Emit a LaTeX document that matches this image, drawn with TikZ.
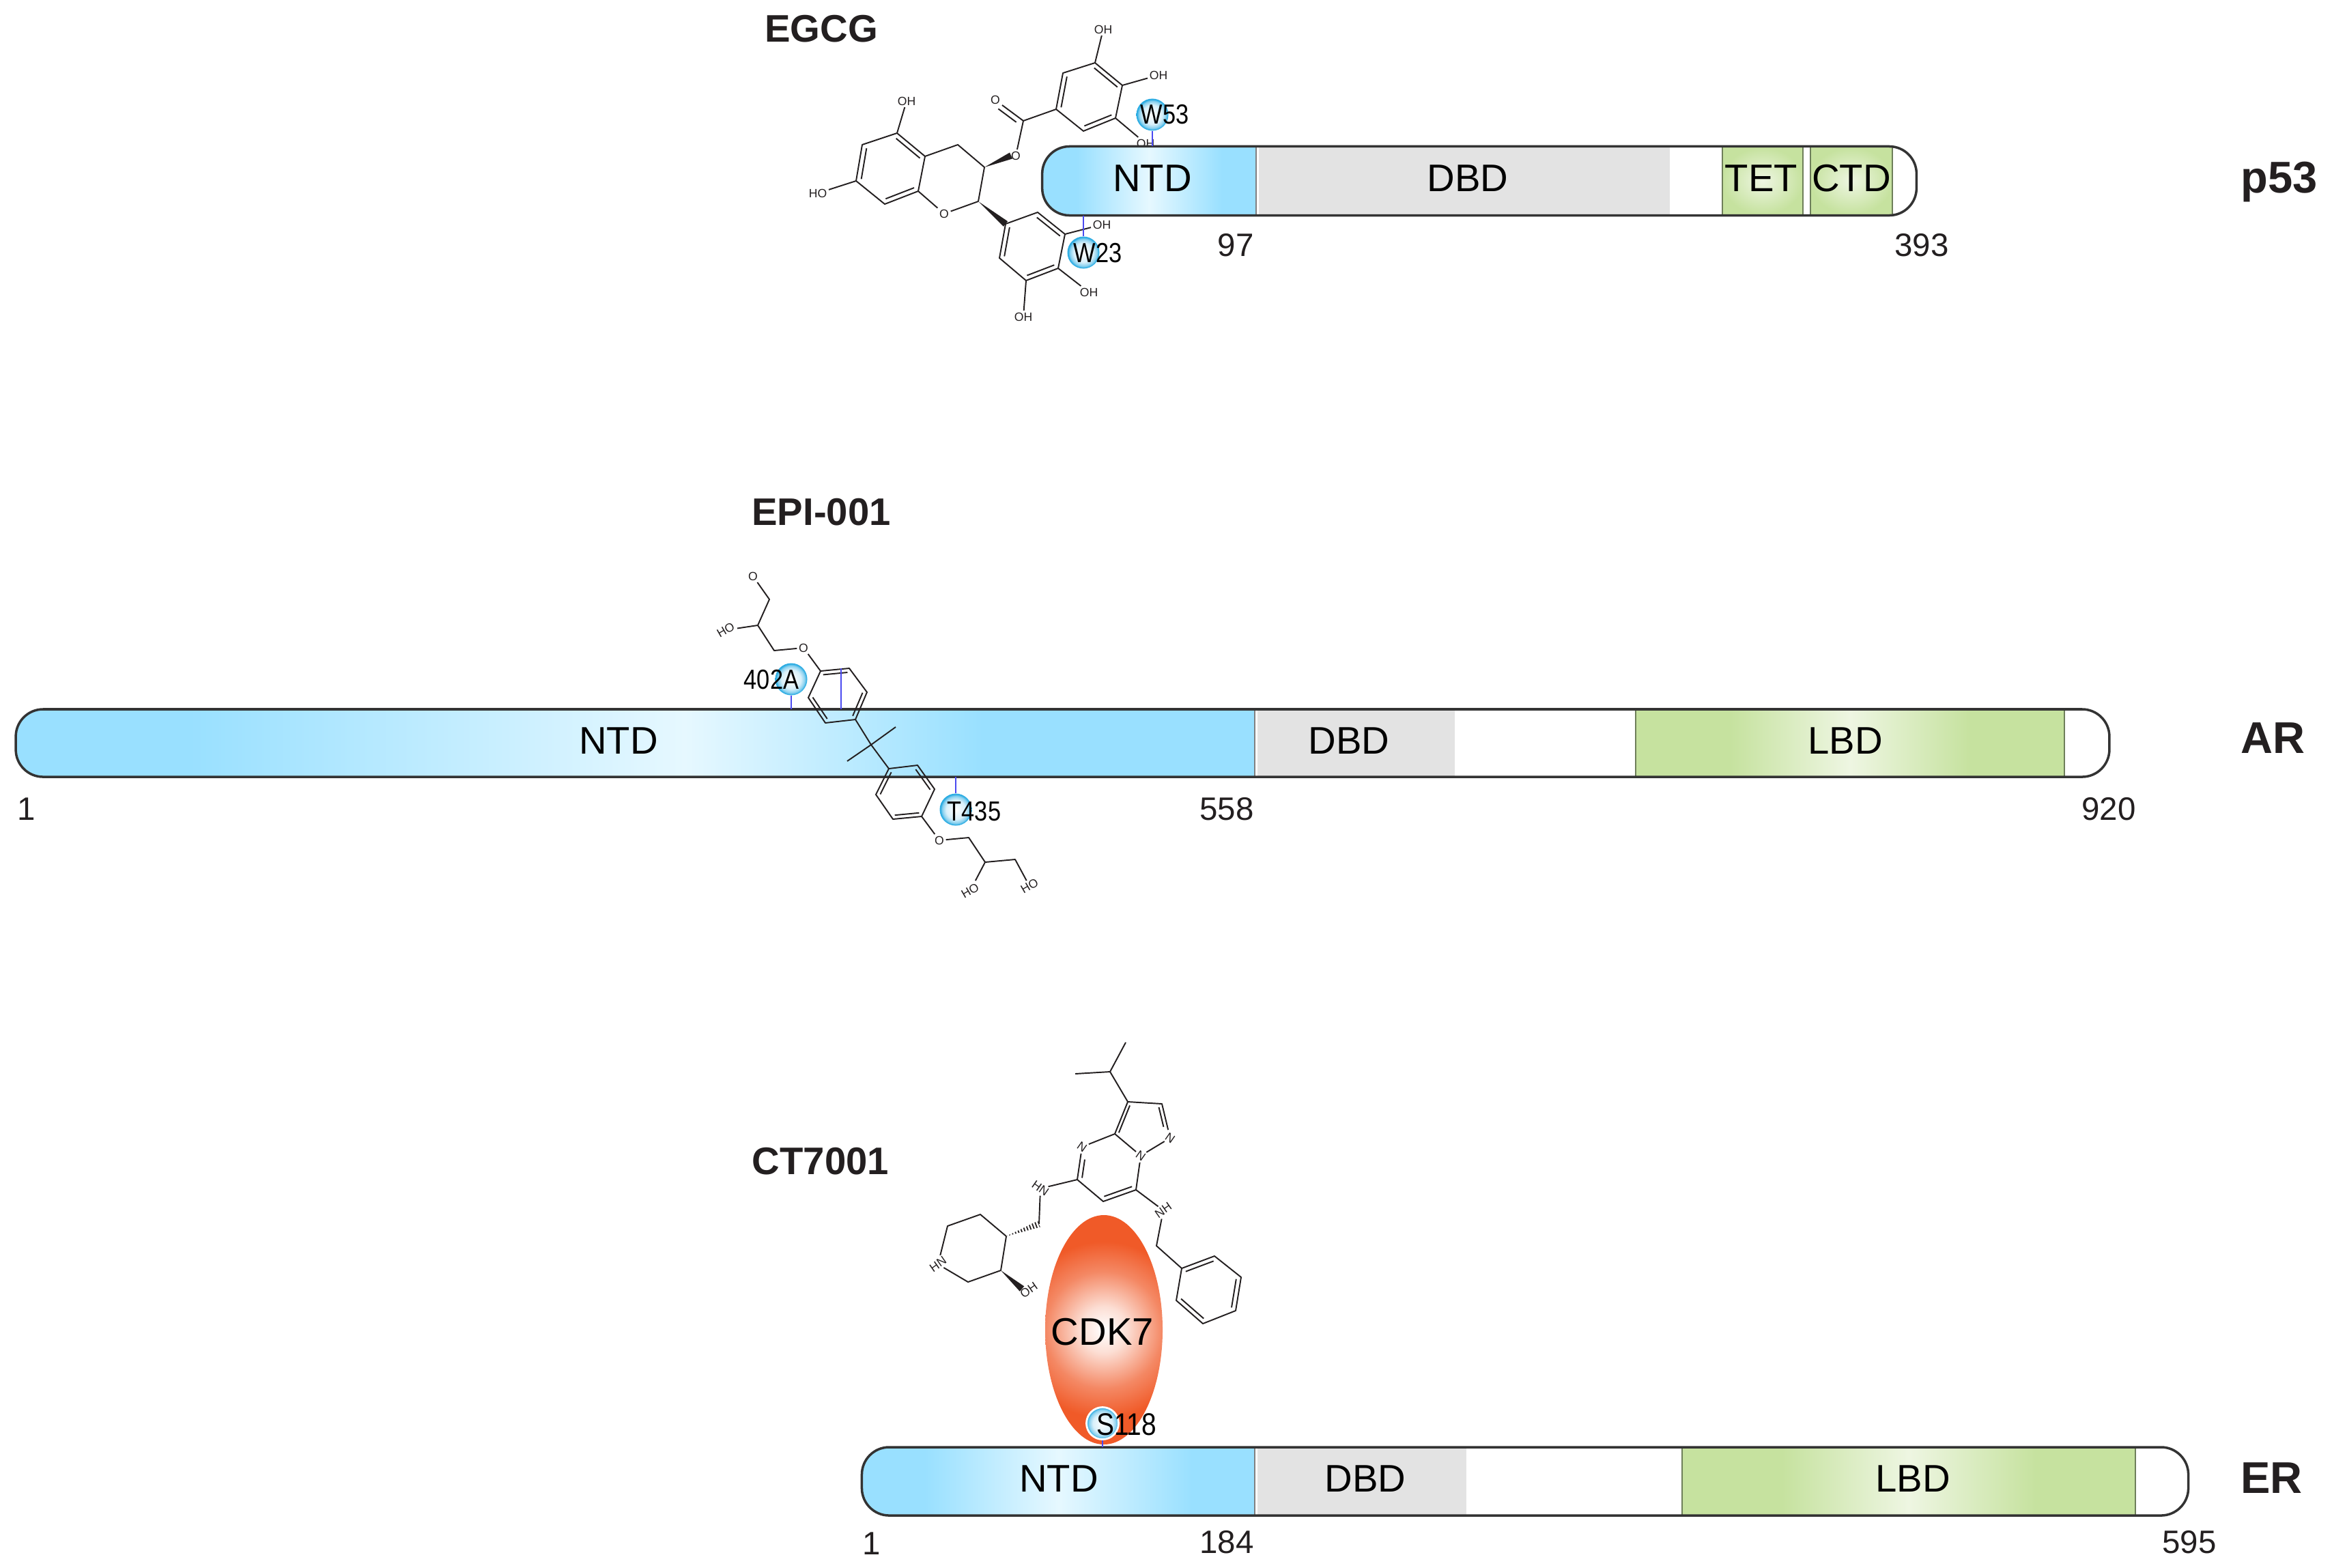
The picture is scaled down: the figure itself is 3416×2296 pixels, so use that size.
\documentclass[tikz,border=0pt]{standalone}
\usepackage{graphicx}
\usepackage{fontspec}
\setmainfont{Liberation Sans}
\usetikzlibrary{calc, positioning, shapes.geometric}
\definecolor{colorNTD}{HTML}{99E0FF}
\definecolor{colorNTDlight}{HTML}{E6F8FF}
\definecolor{colorDBD}{HTML}{E3E3E3}
\definecolor{colorLBD}{HTML}{C6E29F}
\definecolor{colorLBDlight}{HTML}{EEF6E2}
\definecolor{colorEdge}{HTML}{333333}
\definecolor{colorGreenEdge}{HTML}{6E7F5A}
\definecolor{colorInk}{HTML}{231F20}
\definecolor{colorContact}{HTML}{4A4AF0}
\definecolor{colorResidue}{HTML}{29ABE2}
\definecolor{colorKinase}{HTML}{F05A28}
\pgfdeclarehorizontalshading{ntdfade}{100bp}{color(0bp)=(colorNTD); color(33bp)=(colorNTD); color(50bp)=(colorNTDlight); color(67bp)=(colorNTD); color(100bp)=(colorNTD)}
\pgfdeclarehorizontalshading{arfade}{100bp}{color(0bp)=(colorNTD); color(32bp)=(colorNTD); color(52bp)=(colorNTDlight); color(64bp)=(colorNTD); color(100bp)=(colorNTD)}
\pgfdeclarehorizontalshading{lbdfade}{100bp}{color(0bp)=(colorLBD); color(36bp)=(colorLBD); color(50bp)=(colorLBDlight); color(64bp)=(colorLBD); color(100bp)=(colorLBD)}
\pgfdeclareradialshading{residuefade}{\pgfpoint{0bp}{0bp}}{color(0bp)=(white); color(15bp)=(colorResidue!18); color(21bp)=(colorResidue!55); color(24bp)=(colorResidue); color(50bp)=(colorResidue)}
\pgfdeclareradialshading{kinasefade}{\pgfpoint{0bp}{0bp}}{color(0bp)=(white); color(5bp)=(colorKinase!20); color(12.6bp)=(colorKinase!72); color(19bp)=(colorKinase); color(50bp)=(colorKinase)}
\tikzset{
  barbody/.style={draw=colorEdge, line width=1pt, rounded corners=0.4cm, inner sep=0pt, outer sep=0pt},
  domainlabel/.style={font=\fontsize{16}{18}\selectfont, text=black, inner sep=1pt},
  sitenumber/.style={font=\fontsize{13.5}{15}\selectfont, text=colorInk, inner sep=1pt},
  drugname/.style={font=\fontsize{16}{18}\selectfont\bfseries, text=colorInk, inner sep=1pt},
  proteinname/.style={font=\fontsize{18.5}{20}\selectfont\bfseries, text=colorInk, inner sep=1pt, anchor=west},
  sitename/.style={font=\fontsize{11.5}{13}\selectfont, text=black, inner sep=0pt},
  residue/.style={circle, minimum size=0.47cm, inner sep=0pt, shade, shading=residuefade},
  atomlabel/.style={font=\fontsize{5}{6}\selectfont, text=colorInk, inner sep=0.6pt},
  bond/.style={draw=colorInk, line width=0.55pt, line join=round},
  contact/.style={draw=colorContact, line width=0.55pt},
  domainedge/.style={draw=gray, line width=0.6pt},
  greenedge/.style={draw=colorGreenEdge, line width=0.6pt}
}
\newcommand{\sitetext}[1]{\scalebox{0.85}[1]{#1}}
\newcommand{\dblbond}[4][]{\draw[bond,#1] ($(#2)!0.15!(#4)$) -- ($(#3)!0.15!(#4)$);}
\newcommand{\wedgebond}[2]{\fill[colorInk] (#1) -- ($(#2)!1.4pt!90:(#1)$) -- ($(#2)!1.4pt!-90:(#1)$) -- cycle;}
\newcommand{\hashbond}[2]{\begin{scope}\clip (#1) -- ($(#2)!1.4pt!90:(#1)$) -- ($(#2)!1.4pt!-90:(#1)$) -- cycle;\draw[colorInk, line width=3pt, dash pattern=on 0.5pt off 0.8pt] (#1) -- (#2);\end{scope}}
\begin{document}
\begin{tikzpicture}[x=0.01cm, y=-0.01cm]
\useasboundingbox (0,0) rectangle (3416,2296);
\node[drugname] (egcgtitle) at (1203,42) {EGCG};
\node[drugname] (epititle) at (1203,750) {EPI-001};
\node[drugname] (cttitle) at (1202,1701) {CT7001};
\node[proteinname] (p53name) at (3278,267) {p53};
\node[proteinname] (arname) at (3278,1081) {AR};
\node[proteinname] (ername) at (3278,2165) {ER};
\coordinate (ea1) at (1314,195);
\coordinate (ea2) at (1263,212);
\coordinate (ea3) at (1254,265);
\coordinate (ea4) at (1296,299);
\coordinate (ea5) at (1345,280);
\coordinate (ea6) at (1355,229);
\coordinate (eac) at (1305,247);
\coordinate (eb1) at (1403,212);
\coordinate (eb2) at (1442,245);
\coordinate (eb3) at (1433,295);
\coordinate (ew1) at (1481,228);
\coordinate (ec1) at (1499,177);
\coordinate (ec2) at (1468,154);
\coordinate (ecr) at (1430,190);
\coordinate (ed1) at (1547,160);
\coordinate (ed2) at (1557,107);
\coordinate (ed3) at (1604,92);
\coordinate (ed4) at (1644,125);
\coordinate (ed5) at (1634,173);
\coordinate (ed6) at (1587,192);
\coordinate (edc) at (1596,142);
\coordinate (ee1) at (1473,328);
\coordinate (ee2) at (1520,311);
\coordinate (ee3) at (1560,343);
\coordinate (ee4) at (1550,393);
\coordinate (ee5) at (1503,411);
\coordinate (ee6) at (1464,378);
\coordinate (eec) at (1512,361);
\node[atomlabel] (eoh1) at (1328,148) {OH};
\node[atomlabel] (eho2) at (1198,283) {HO};
\node[atomlabel] (eo3) at (1383,313) {O};
\node[atomlabel] (eo4) at (1488,228) {O};
\node[atomlabel] (eo5) at (1458,146) {O};
\node[atomlabel] (eoh6) at (1616,43) {OH};
\node[atomlabel] (eoh7) at (1697,110) {OH};
\node[atomlabel] (eoh8) at (1678,210) {OH};
\node[atomlabel] (eoh9) at (1614,329) {OH};
\node[atomlabel] (eoh10) at (1595,428) {OH};
\node[atomlabel] (eoh11) at (1499,464) {OH};
\draw[bond] (ea1) -- (ea2) -- (ea3) -- (ea4) -- (ea5) -- (ea6) -- cycle;
\draw[bond] (ea6) -- (eb1) -- (eb2) -- (eb3) -- (eo3) -- (ea5);
\draw[bond] (ed1) -- (ed2) -- (ed3) -- (ed4) -- (ed5) -- (ed6) -- cycle;
\draw[bond] (ee1) -- (ee2) -- (ee3) -- (ee4) -- (ee5) -- (ee6) -- cycle;
\draw[bond] (ea1) -- (eoh1);
\draw[bond] (ea3) -- (eho2);
\draw[bond] (eo4) -- (ec1) -- (ed1);
\draw[bond] (ec1) -- (ec2);
\draw[bond] (ed3) -- (eoh6);
\draw[bond] (ed4) -- (eoh7);
\draw[bond] (ed5) -- (eoh8);
\draw[bond] (ee3) -- (eoh9);
\draw[bond] (ee4) -- (eoh10);
\draw[bond] (ee5) -- (eoh11);
\dblbond{ea1}{ea6}{eac}
\dblbond{ea2}{ea3}{eac}
\dblbond{ea4}{ea5}{eac}
\dblbond{ed1}{ed2}{edc}
\dblbond{ed3}{ed4}{edc}
\dblbond{ed5}{ed6}{edc}
\dblbond{ee1}{ee6}{eec}
\dblbond{ee2}{ee3}{eec}
\dblbond{ee4}{ee5}{eec}
\dblbond{ec1}{ec2}{ecr}
\wedgebond{eb2}{ew1}
\wedgebond{eb3}{ee1}
\shade[shading=ntdfade] (1840,216) [rounded corners=0.4cm] -- (1527,216) -- (1527,315) [sharp corners] -- (1840,315) -- cycle;
\fill[colorDBD] (1844,216) rectangle (2446,314);
\shade[inner color=colorLBDlight, outer color=colorLBD] (2523,216) rectangle (2641,314);
\shade[inner color=colorLBDlight, outer color=colorLBD] (2652,216) rectangle (2772,314);
\draw[domainedge] (1840,216) -- (1840,315);
\draw[greenedge] (2523,216) -- (2523,315);
\draw[greenedge] (2641,216) -- (2641,315);
\draw[greenedge] (2652,216) -- (2652,315);
\draw[greenedge] (2772,216) -- (2772,315);
\node[barbody, minimum width=12.8cm, minimum height=1.01cm] (p53bar) at (2167,265) {};
\node[domainlabel] (p53ntd) at (1688,261) {NTD};
\node[domainlabel] (p53dbd) at (2150,261) {DBD};
\node[domainlabel] (p53tet) at (2580,261) {TET};
\node[domainlabel] (p53ctd) at (2712,261) {CTD};
\node[sitenumber] (p53n97) at (1810,359) {97};
\node[sitenumber] (p53n393) at (2815,359) {393};
\node[residue] (w53) at (1688,168) {};
\node[residue] (w23) at (1587,370) {};
\draw[contact] (w53) -- (w53 |- p53bar.north);
\draw[contact] (w23) -- (w23 |- p53bar.south);
\node[sitename] (w53name) at (1706,168) {\sitetext{W53}};
\node[sitename] (w23name) at (1608,371) {\sitetext{W23}};
\shade[shading=arfade] (1838,1040) [rounded corners=0.4cm] -- (24,1040) -- (24,1138) [sharp corners] -- (1838,1138) -- cycle;
\fill[colorDBD] (1842,1040) rectangle (2131,1138);
\shade[shading=lbdfade] (2396,1040) rectangle (3024,1138);
\draw[domainedge] (1838,1040) -- (1838,1138);
\draw[greenedge] (2396,1040) -- (2396,1138);
\draw[greenedge] (3024,1040) -- (3024,1138);
\node[barbody, minimum width=30.65cm, minimum height=0.99cm] (arbar) at (1556.5,1088.5) {};
\node[domainlabel] (arntd) at (906,1085) {NTD};
\node[domainlabel] (ardbd) at (1976,1085) {DBD};
\node[domainlabel] (arlbd) at (2703,1085) {LBD};
\node[sitenumber] (arn1) at (39,1185) {1};
\node[sitenumber] (arn558) at (1797,1185) {558};
\node[sitenumber] (arn920) at (3089,1185) {920};
\coordinate (ac1) at (1127,878);
\coordinate (ac2) at (1110,916);
\coordinate (ac3) at (1134,953);
\coordinate (ar1) at (1202,983);
\coordinate (ar2) at (1244,979);
\coordinate (ar3) at (1270,1014);
\coordinate (ar4) at (1253,1054);
\coordinate (ar5) at (1209,1059);
\coordinate (ar6) at (1184,1022);
\coordinate (arc) at (1227,1019);
\coordinate (am0) at (1276,1091);
\coordinate (am1) at (1312,1065);
\coordinate (am2) at (1241,1115);
\coordinate (as1) at (1302,1126);
\coordinate (as2) at (1344,1121);
\coordinate (as3) at (1369,1156);
\coordinate (as4) at (1350,1196);
\coordinate (as5) at (1308,1200);
\coordinate (as6) at (1283,1164);
\coordinate (asc) at (1326,1161);
\coordinate (at1) at (1419,1227);
\coordinate (at2) at (1443,1263);
\coordinate (at3) at (1487,1259);
\node[atomlabel] (acl) at (1103,844) {O};
\node[atomlabel, rotate=30] (aho1) at (1063,923) {HO};
\node[atomlabel] (ao1) at (1177,949) {O};
\node[atomlabel] (ao2) at (1376,1231) {O};
\node[atomlabel, rotate=30] (aho2) at (1421,1305) {HO};
\node[atomlabel, rotate=30] (aho3) at (1508,1298) {HO};
\draw[bond] (acl) -- (ac1) -- (ac2) -- (ac3) -- (ao1) -- (ar1);
\draw[bond] (ac2) -- (aho1);
\draw[bond] (ar1) -- (ar2) -- (ar3) -- (ar4) -- (ar5) -- (ar6) -- cycle;
\draw[bond] (ar4) -- (am0) -- (as1);
\draw[bond] (am1) -- (am0) -- (am2);
\draw[bond] (as1) -- (as2) -- (as3) -- (as4) -- (as5) -- (as6) -- cycle;
\draw[bond] (as4) -- (ao2) -- (at1) -- (at2) -- (at3) -- (aho3);
\draw[bond] (at2) -- (aho2);
\dblbond{ar1}{ar2}{arc}
\dblbond{ar3}{ar4}{arc}
\dblbond{ar5}{ar6}{arc}
\dblbond{as1}{as6}{asc}
\dblbond{as2}{as3}{asc}
\dblbond{as4}{as5}{asc}
\node[residue] (a402) at (1159,995) {};
\node[residue] (t435) at (1400,1186) {};
\coordinate (aring) at (1232,979);
\draw[contact] (a402) -- (a402 |- arbar.north);
\draw[contact] (aring) -- (aring |- arbar.north);
\draw[contact] (t435) -- (t435 |- arbar.south);
\node[sitename] (a402name) at (1130,996) {\sitetext{402A}};
\node[sitename] (t435name) at (1427,1189) {\sitetext{T435}};
\coordinate (ci1) at (1649,1527);
\coordinate (ci2) at (1626,1570);
\coordinate (ci3) at (1575,1573);
\coordinate (cf1) at (1652,1614);
\coordinate (cf2) at (1702,1617);
\coordinate (cf3) at (1633,1661);
\coordinate (cfc) at (1672,1650);
\coordinate (cg1) at (1578,1728);
\coordinate (cg2) at (1616,1760);
\coordinate (cg3) at (1664,1743);
\coordinate (cgc) at (1625,1711);
\coordinate (cm1) at (1522,1793);
\coordinate (cp1) at (1474,1811);
\coordinate (cp2) at (1436,1779);
\coordinate (cp3) at (1388,1796);
\coordinate (cp4) at (1418,1878);
\coordinate (cp5) at (1466,1861);
\coordinate (cw1) at (1497,1888);
\coordinate (cm2) at (1694,1825);
\coordinate (ch1) at (1731,1858);
\coordinate (ch2) at (1779,1840);
\coordinate (ch3) at (1818,1871);
\coordinate (ch4) at (1810,1920);
\coordinate (ch5) at (1762,1939);
\coordinate (ch6) at (1723,1905);
\coordinate (chc) at (1770,1889);
\node[atomlabel, rotate=-35] (cn1) at (1714,1667) {N};
\node[atomlabel, rotate=-35] (cn2) at (1671,1693) {N};
\node[atomlabel, rotate=-35] (cn3) at (1585,1680) {N};
\node[atomlabel, rotate=-35] (cn4) at (1524,1741) {HN};
\node[atomlabel, rotate=35] (cn5) at (1704,1773) {NH};
\node[atomlabel, rotate=35] (cn6) at (1374,1852) {HN};
\node[atomlabel, rotate=35] (coh) at (1507,1890) {OH};
\draw[bond] (ci1) -- (ci2) -- (ci3);
\draw[bond] (ci2) -- (cf1) -- (cf2) -- (cn1) -- (cn2) -- (cf3) -- (cf1);
\draw[bond] (cf3) -- (cn3) -- (cg1) -- (cg2) -- (cg3) -- (cn2);
\draw[bond] (cg1) -- (cn4) -- (cm1);
\draw[bond] (cg3) -- (cn5) -- (cm2) -- (ch1);
\draw[bond] (cp1) -- (cp2) -- (cp3) -- (cn6) -- (cp4) -- (cp5) -- (cp1);
\draw[bond] (ch1) -- (ch2) -- (ch3) -- (ch4) -- (ch5) -- (ch6) -- cycle;
\dblbond{cf1}{cf3}{cfc}
\dblbond[shorten >=4pt]{cf2}{cn1}{cfc}
\dblbond[shorten <=4pt]{cn3}{cg1}{cgc}
\dblbond{cg2}{cg3}{cgc}
\dblbond{ch1}{ch2}{chc}
\dblbond{ch3}{ch4}{chc}
\dblbond{ch5}{ch6}{chc}
\hashbond{cp1}{cm1}
\wedgebond{cp5}{cw1}
\begin{scope}
\clip (1617,1948) ellipse [x radius=86, y radius=168];
\shade[shading=kinasefade] (1447,1778) rectangle (1787,2118);
\end{scope}
\node[ellipse, minimum width=1.72cm, minimum height=3.36cm, inner sep=0pt] (cdk7) at (1617,1948) {};
\node[domainlabel] (cdk7name) at (1615,1951) {CDK7};
\shade[shading=ntdfade] (1838,2121) [rounded corners=0.4cm] -- (1263,2121) -- (1263,2220) [sharp corners] -- (1838,2220) -- cycle;
\fill[colorDBD] (1842,2121) rectangle (2148,2220);
\shade[shading=lbdfade] (2464,2121) rectangle (3128,2220);
\draw[domainedge] (1838,2121) -- (1838,2220);
\draw[greenedge] (2464,2121) -- (2464,2220);
\draw[greenedge] (3128,2121) -- (3128,2220);
\node[barbody, minimum width=19.42cm, minimum height=1cm] (erbar) at (2234,2170) {};
\node[domainlabel] (erntd) at (1551,2166) {NTD};
\node[domainlabel] (erdbd) at (2000,2166) {DBD};
\node[domainlabel] (erlbd) at (2802,2166) {LBD};
\node[sitenumber] (ern1) at (1277,2261) {1};
\node[sitenumber] (ern184) at (1797,2259) {184};
\node[sitenumber] (ern595) at (3207,2259) {595};
\node[residue, draw=white, line width=0.8pt] (s118) at (1615,2085) {};
\draw[contact] (s118) -- (s118 |- erbar.north);
\node[sitename, font=\fontsize{13}{15}\selectfont] (s118name) at (1650,2087) {\sitetext{S118}};
\end{tikzpicture}
\end{document}
